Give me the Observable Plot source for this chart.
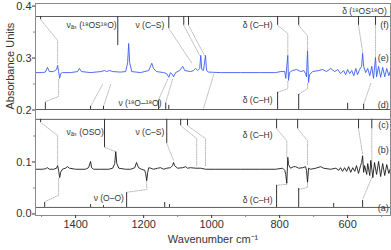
<!DOCTYPE html>
<html><head><meta charset="utf-8">
<script src="https://cdn.jsdelivr.net/npm/d3@7"></script>
<script src="https://cdn.jsdelivr.net/npm/@observablehq/plot@0.6"></script>
<style>
body{margin:0;background:#fff}
svg{font-family:"Liberation Sans",Arial,sans-serif}
</style>
</head><body><div id="chart"></div>
<script>
// ---- spectrum (e): blue trace
const eWn  = [1518,1497,1489,1483,1477,1465,1456,1453,1450,1447,1444,1439,1415,1394,1389,1383,1356,1326,1315,1309,1300,1291,1268,1253,1247,1244,1241,1235,1209,1185,1176,1171,1162,1141,1132,1126,1121,1115,1112,1106,1094,1085,1079,1062,1053,1047,1041,1035,1032,1029,1024,1018,1015,1009,974,915,856,812,797,785,782,779,776,774,771,762,750,738,729,724,721,718,715,712,703,685,674,662,650,638,629,621,612,606,600,594,588,582,576,571,565,559,556,553,547,541,535,529,524,518,515,509,503,497,491,485,479,474];
const eAbs = [0.272,0.272,0.273,0.282,0.274,0.274,0.278,0.286,0.274,0.261,0.270,0.272,0.272,0.274,0.280,0.274,0.272,0.274,0.276,0.274,0.276,0.274,0.273,0.274,0.291,0.328,0.291,0.274,0.272,0.276,0.290,0.280,0.274,0.272,0.270,0.263,0.272,0.268,0.264,0.272,0.276,0.284,0.276,0.274,0.276,0.280,0.276,0.280,0.305,0.278,0.276,0.305,0.276,0.273,0.272,0.272,0.272,0.272,0.274,0.274,0.261,0.284,0.305,0.257,0.272,0.276,0.278,0.274,0.276,0.270,0.264,0.314,0.253,0.268,0.274,0.276,0.278,0.274,0.280,0.274,0.278,0.270,0.276,0.268,0.278,0.270,0.276,0.266,0.280,0.268,0.278,0.284,0.309,0.284,0.272,0.280,0.266,0.284,0.261,0.301,0.264,0.284,0.263,0.282,0.264,0.280,0.266,0.276];

// ---- spectrum (b): black trace
const bWn  = [1518,1497,1489,1483,1477,1465,1456,1453,1450,1447,1444,1439,1430,1424,1418,1400,1371,1362,1356,1353,1347,1326,1303,1291,1285,1282,1279,1273,1253,1238,1226,1221,1215,1206,1197,1194,1191,1188,1185,1179,1171,1159,1150,1141,1132,1121,1115,1112,1109,1100,1085,1076,1071,1062,1047,1032,1018,988,915,856,812,791,785,782,779,776,774,768,759,753,744,732,724,721,718,715,709,694,679,671,650,635,626,621,615,609,603,597,591,585,579,574,568,562,559,556,553,550,544,541,535,532,526,521,515,509,503,497,491,485,479,474];
const bAbs = [0.086,0.086,0.087,0.089,0.086,0.086,0.088,0.093,0.084,0.070,0.080,0.086,0.088,0.091,0.088,0.086,0.086,0.089,0.101,0.089,0.086,0.086,0.086,0.088,0.097,0.120,0.097,0.088,0.086,0.086,0.089,0.099,0.089,0.086,0.084,0.078,0.064,0.080,0.089,0.088,0.086,0.088,0.089,0.086,0.088,0.089,0.093,0.099,0.093,0.088,0.089,0.091,0.088,0.089,0.088,0.088,0.086,0.086,0.086,0.086,0.086,0.088,0.084,0.076,0.059,0.109,0.095,0.088,0.091,0.091,0.088,0.089,0.091,0.084,0.061,0.088,0.086,0.088,0.091,0.088,0.086,0.088,0.084,0.089,0.082,0.089,0.082,0.091,0.080,0.089,0.082,0.093,0.078,0.093,0.099,0.112,0.080,0.093,0.076,0.097,0.074,0.103,0.070,0.099,0.076,0.101,0.072,0.097,0.074,0.095,0.078,0.088];

// ---- stick spectra (baseline, positions, tips)
const fBase = 0.380;
const fWn  = [1503,1276,1126,1082,1068,806,744,568,518];
const fTip = [0.374,0.324,0.357,0.363,0.363,0.363,0.363,0.363,0.363];
const dBase = 0.201;
const dWn  = [1489,1356,1318,1156,1135,1126,806,744,600,553];
const dTip = [0.214,0.207,0.207,0.218,0.213,0.209,0.234,0.230,0.213,0.211];
const cBase = 0.182;
const cWn  = [1503,1315,1132,1091,1071,809,747,568,529];
const cTip = [0.176,0.128,0.136,0.170,0.170,0.164,0.164,0.164,0.164];
const aBase = 0.0125;
const aWn  = [1491,1356,1318,1250,1138,1124,809,744,641,556];
const aTip = [0.022,0.018,0.016,0.041,0.022,0.018,0.055,0.049,0.020,0.026];

// ---- dotted correlation lines [wavenumber, absorbance]
const connectors = [
  [[1503,0.374],[1453,0.334],[1453,0.289]],
  [[1450,0.259],[1450,0.226],[1489,0.216]],
  [[1356,0.207],[1321,0.249]],
  [[1318,0.207],[1297,0.249]],
  [[1156,0.220],[1129,0.259]],
  [[1135,0.214],[1115,0.259]],
  [[1126,0.357],[1059,0.291]],
  [[1082,0.363],[1035,0.305]],
  [[1068,0.363],[1021,0.305]],
  [[994,0.268],[1024,0.203]],
  [[806,0.363],[776,0.347],[776,0.306]],
  [[776,0.255],[776,0.241],[806,0.234]],
  [[744,0.363],[718,0.343],[718,0.316]],
  [[718,0.251],[718,0.241],[744,0.230]],
  [[568,0.363],[556,0.311]],
  [[518,0.363],[518,0.301]],
  [[532,0.251],[553,0.211]],
  [[1503,0.176],[1453,0.151],[1453,0.095]],
  [[1450,0.068],[1450,0.036],[1489,0.024]],
  [[1315,0.128],[1282,0.120]],
  [[1132,0.136],[1112,0.103]],
  [[1091,0.170],[1044,0.145],[1044,0.092]],
  [[1071,0.170],[1018,0.145],[1018,0.092]],
  [[1191,0.062],[1191,0.047],[1247,0.042]],
  [[809,0.164],[779,0.141],[779,0.110]],
  [[779,0.057],[809,0.055]],
  [[747,0.164],[718,0.141],[718,0.093]],
  [[718,0.059],[718,0.051],[744,0.047]],
  [[568,0.164],[556,0.114]],
  [[529,0.164],[529,0.093]],
  [[529,0.070],[556,0.028]]
];

// ---- annotations
const notesStart = [
  {wn:1427, a:0.363, t:"νₐₛ (¹⁸OS¹⁸O)"},
  {wn:1224, a:0.363, t:"ν (C–S)"},
  {wn:1274, a:0.2125, t:"ν (¹⁸O–¹⁸O)"},
  {wn:1427, a:0.157, t:"νₐₛ (OSO)"},
  {wn:1224, a:0.157, t:"ν (C–S)"},
  {wn:1347, a:0.030, t:"ν (O–O)"}
];
const notesEnd = [
  {wn:485, a:0.391, t:"δ (¹⁸OS¹⁸O)"},
  {wn:821, a:0.363, t:"δ (C–H)"},
  {wn:821, a:0.218, t:"δ (C–H)"},
  {wn:821, a:0.151, t:"δ (C–H)"},
  {wn:821, a:0.026, t:"δ (C–H)"}
];
const traceLabels = ["(f)","(e)","(d)","(c)","(b)","(a)"];
const traceLabelY = [0.3625,0.299,0.2087,0.170,0.122,0.0106];

const xTicks = [1400,1200,1000,800,600];
const yTicks = [0.0,0.1,0.2,0.3,0.4];
const yMinor = [0.05,0.15,0.25,0.35];
const xMinor = [1500,1300,1100,900,700,500];

const eRows = eWn.map((w,i)=>({wn:w,a:eAbs[i]}));
const bRows = bWn.map((w,i)=>({wn:w,a:bAbs[i]}));
const sticks = (wn,tip,base)=>wn.map((w,i)=>({wn:w,y1:base,y2:tip[i]}));
const connRows = connectors.flatMap((pts,i)=>pts.map(([wn,a])=>({wn,a,id:i})));
const labelRows = traceLabels.map((t,i)=>({t, a:traceLabelY[i]}));

const chart = Plot.plot({
  width: 391, height: 250,
  marginLeft: 35, marginRight: 1, marginTop: 3, marginBottom: 35,
  style: {fontFamily:'"Liberation Sans",Arial,sans-serif', background:"#fff"},
  x: {type:"linear", domain:[1518,474], label:null},
  y: {type:"linear", domain:[-0.003,0.405], label:null},
  marks: [
    Plot.ruleY([fBase,dBase,cBase,aBase], {stroke:"#4a4a4a", strokeWidth:0.9}),
    Plot.line(connRows, {x:"wn", y:"a", z:"id", stroke:"#a8a8a8", strokeWidth:0.8, strokeDasharray:"1.2,1.2"}),
    Plot.ruleX(sticks(fWn,fTip,fBase), {x:"wn", y1:"y1", y2:"y2", stroke:"#333", strokeWidth:1}),
    Plot.ruleX(sticks(dWn,dTip,dBase), {x:"wn", y1:"y1", y2:"y2", stroke:"#333", strokeWidth:1}),
    Plot.ruleX(sticks(cWn,cTip,cBase), {x:"wn", y1:"y1", y2:"y2", stroke:"#333", strokeWidth:1}),
    Plot.ruleX(sticks(aWn,aTip,aBase), {x:"wn", y1:"y1", y2:"y2", stroke:"#333", strokeWidth:1}),
    Plot.line(eRows, {x:"wn", y:"a", stroke:"#3b5cf0", strokeWidth:0.9}),
    Plot.line(bRows, {x:"wn", y:"a", stroke:"#1a1a1a", strokeWidth:0.9}),
    Plot.text(notesStart, {x:"wn", y:"a", text:"t", textAnchor:"start", fontSize:8.5, fill:"#333"}),
    Plot.text(notesEnd, {x:"wn", y:"a", text:"t", textAnchor:"end", fontSize:8.5, fill:"#333"}),
    Plot.text(labelRows, {x:()=>479, y:"a", text:"t", textAnchor:"end", fontSize:9, fill:"#333"}),
    Plot.frame({stroke:"#8a8a8a"}),
    Plot.axisX(xTicks, {tickSize:3, tickPadding:2, fontSize:11, color:"#333", tickFormat:d3.format("d"), label:null}),
    Plot.axisX(xMinor, {tickSize:2, tickFormat:()=>"", color:"#8a8a8a", label:null}),
    Plot.axisY(yTicks, {tickSize:3, tickPadding:1, fontSize:11, color:"#333", tickFormat:d3.format(".1f"), label:null}),
    Plot.axisY(yMinor, {tickSize:2, tickFormat:()=>"", color:"#8a8a8a", label:null}),
    Plot.text(["Wavenumber cm⁻¹"], {frameAnchor:"bottom", dy:27, fontSize:11, fill:"#333"}),
    Plot.text(["Absorbance Units"], {frameAnchor:"left", dx:-25, rotate:-90, fontSize:11, fill:"#333"})
  ]
});
document.getElementById("chart").appendChild(chart);
</script>
</body></html>
